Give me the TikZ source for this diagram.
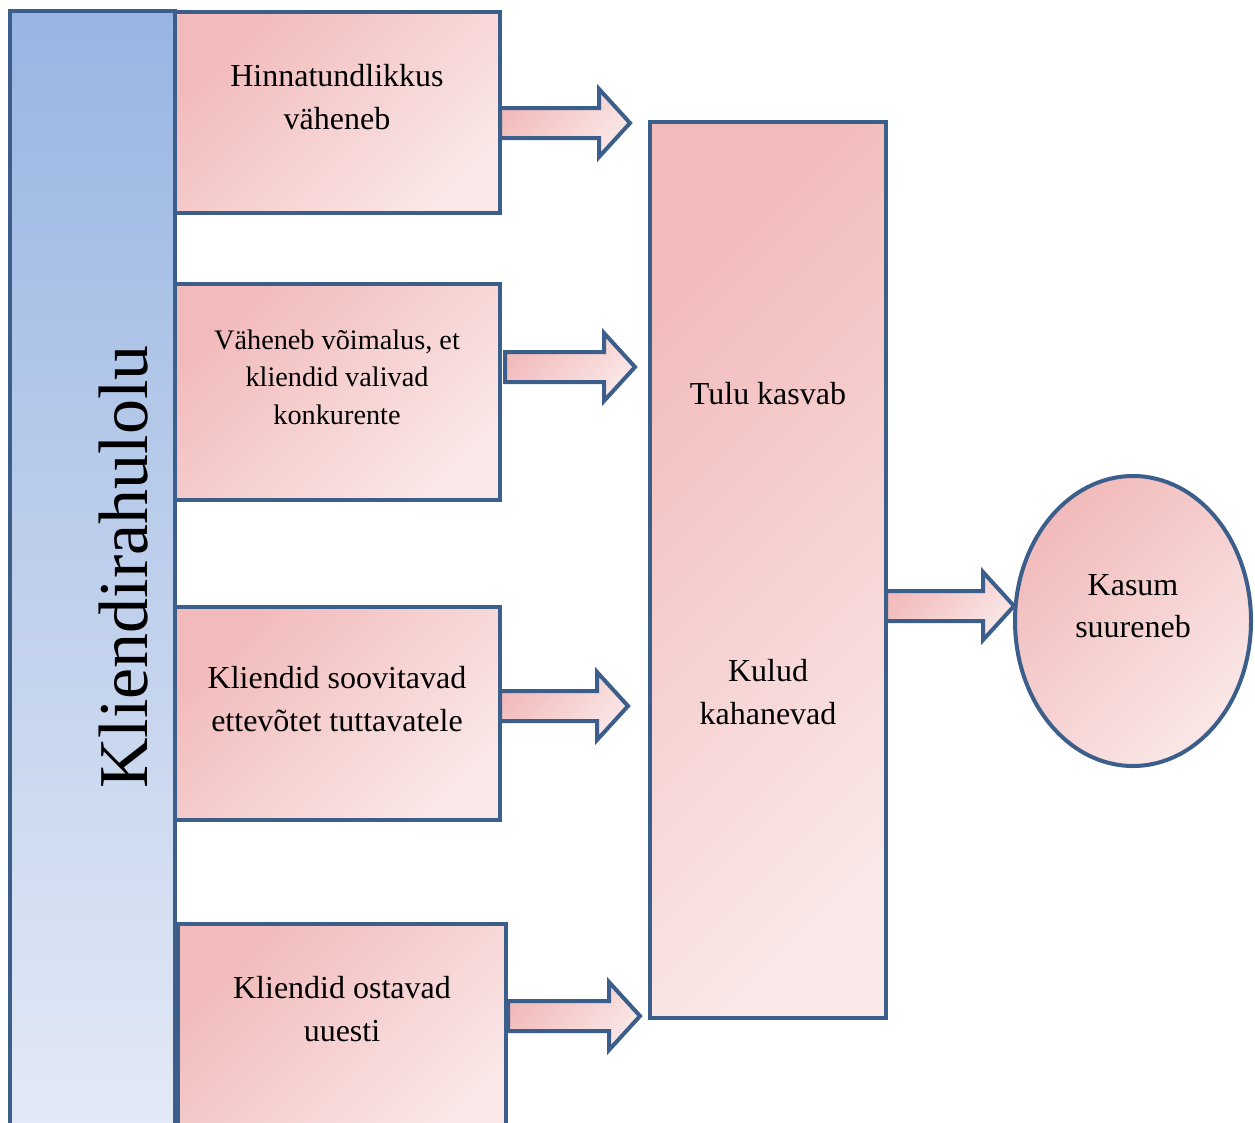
\documentclass[tikz,border=0pt]{standalone}
\usepackage{fontspec}
\setmainfont{Liberation Serif}
\usetikzlibrary{shapes.geometric}

\definecolor{edge}{RGB}{59,94,139}
\definecolor{pinkA}{RGB}{242,186,186}
\definecolor{pinkB}{RGB}{250,231,231}
\definecolor{blueA}{RGB}{152,181,226}
\definecolor{blueB}{RGB}{228,234,246}

\begin{document}
\begin{tikzpicture}[x=0.75pt,y=-0.75pt,
  pinkfill/.style={top color=pinkA, bottom color=pinkB, shading angle=45},
  panel/.style={draw=edge, line width=3pt, pinkfill, rectangle, inner sep=0pt, outer sep=0pt},
  bar/.style={draw=edge, line width=3pt, top color=blueA, bottom color=blueB, rectangle, inner sep=0pt, outer sep=0pt},
  oval/.style={draw=edge, line width=3pt, pinkfill, ellipse, inner sep=0pt, outer sep=0pt},
  lbl/.style={align=center, text=black, inner sep=0pt, font=\fontsize{24}{32}\selectfont},
  lblsmall/.style={align=center, text=black, inner sep=0pt, font=\fontsize{21.2}{28}\selectfont},
  arrowbody/.style={draw=edge, line width=3pt, line join=miter, pinkfill},
  pics/blockarrow/.style={code={
    \path[arrowbody] (0,-15) -- ({#1-31},-15) -- ({#1-31},-34) -- (#1,0)
      -- ({#1-31},34) -- ({#1-31},15) -- (0,15) -- cycle;}}
]
\useasboundingbox (0,0) rectangle (1255,1122);

% left column
\node[bar, minimum width={165*0.75pt}, minimum height={1129*0.75pt}] (sat) at (92.5,575.5) {};
\node[rotate=90, inner sep=0pt, font=\fontsize{52.5}{52.5}\selectfont] (title) at (124,567) {Kliendirahulolu};

% effect boxes
\node[panel, minimum width={325*0.75pt}, minimum height={201*0.75pt}] (b1) at (337.5,112.5) {};
\node[panel, minimum width={325*0.75pt}, minimum height={216*0.75pt}] (b2) at (337.5,392) {};
\node[panel, minimum width={325*0.75pt}, minimum height={213*0.75pt}] (b3) at (337.5,713.5) {};
\node[panel, minimum width={328*0.75pt}, minimum height={216*0.75pt}] (b4) at (342,1032) {};

\node[lbl] (t1) at (337,97) {Hinnatundlikkus\\väheneb};
\node[lblsmall] (t2) at (337,377) {Väheneb võimalus, et\\kliendid valivad\\konkurente};
\node[lbl] (t3) at (337,699) {Kliendid soovitavad\\ettevõtet tuttavatele};
\node[lbl] (t4) at (342,1009) {Kliendid ostavad\\uuesti};

% central result box
\node[panel, minimum width={236*0.75pt}, minimum height={896*0.75pt}] (mid) at (768,570) {};
\node[lbl] (tulu) at (768,394) {Tulu kasvab};
\node[lbl] (kulud) at (768,692) {Kulud\\kahanevad};

% final outcome
\node[oval, minimum width={236*0.75pt}, minimum height={290*0.75pt}] (kasum) at (1133,621) {};
\node[lbl] (tkasum) at (1133,606) {Kasum\\suureneb};

% block arrows
\pic at (500,123) {blockarrow=130};
\pic at (505,367) {blockarrow=130};
\pic at (500,706) {blockarrow=128};
\pic at (508,1016) {blockarrow=132};
\pic at (886,606) {blockarrow=128};
\end{tikzpicture}
\end{document}
